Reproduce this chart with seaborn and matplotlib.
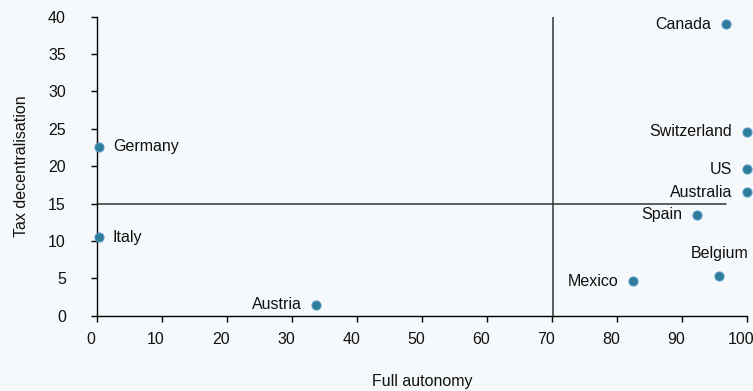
import matplotlib
matplotlib.use('Agg')
import matplotlib.pyplot as plt
import matplotlib.transforms as mtransforms
import seaborn as sns
import pandas as pd

# values
countries = ['Canada', 'Switzerland', 'US', 'Australia', 'Spain',
             'Belgium', 'Mexico', 'Austria', 'Italy', 'Germany']
autonomy = [96.8, 100, 100, 100, 92.3, 95.7, 82.5, 33.7, 0.3, 0.3]
tax_dec = [39.0, 24.6, 19.6, 16.5, 13.5, 5.3, 4.6, 1.45, 10.5, 22.6]

df = pd.DataFrame({'country': countries, 'autonomy': autonomy, 'tax': tax_dec})

sns.set_style('ticks')
plt.rcParams['font.family'] = ['Liberation Sans', 'DejaVu Sans']
bg = '#f6f9fb'
fs = 11.5

fig = plt.figure(figsize=(7.53, 3.91), dpi=100, facecolor=bg)
ax = fig.add_axes([0.129, 0.193, 0.863, 0.764])
ax.set_facecolor(bg)

# reference lines
ax.axvline(70.2, color='#333333', lw=1.1, zorder=1)
ax.plot([0, 96.8], [15, 15], color='#333333', lw=1.1, zorder=1)

sns.scatterplot(data=df, x='autonomy', y='tax', ax=ax, s=42,
                color='#2f7d99', edgecolor='#4f95c4', linewidth=0.8,
                zorder=3, clip_on=False)

# label placement: (dx, dy) in points, horizontal alignment
offsets = {
    'Canada': (-10.5, 0, 'right'),
    'Switzerland': (-10.5, 0, 'right'),
    'US': (-10.5, 0, 'right'),
    'Australia': (-10.5, 0, 'right'),
    'Spain': (-10.5, 0, 'right'),
    'Belgium': (21, 16, 'right'),
    'Mexico': (-10.5, 0, 'right'),
    'Austria': (-10.5, 0, 'right'),
    'Italy': (10, 0, 'left'),
    'Germany': (10, 0, 'left'),
}
for c, x, y in zip(countries, autonomy, tax_dec):
    dx, dy, ha = offsets[c]
    ax.annotate(c, (x, y), xytext=(dx, dy), textcoords='offset points',
                ha=ha, va='center', fontsize=fs, color='#111111')

ax.set_xlim(0, 100)
ax.set_ylim(0, 40)
ax.set_xticks(range(0, 101, 10))
ax.set_yticks(range(0, 41, 5))
ax.tick_params(labelsize=fs, length=4.5, width=1, color='black', labelcolor='#111111')
ax.tick_params(axis='x', pad=7)
ax.tick_params(axis='y', pad=18)
# x tick labels sit a little left of their ticks in the reference
shift = mtransforms.ScaledTranslation(-0.06, 0, fig.dpi_scale_trans)
for lab in ax.get_xticklabels():
    lab.set_transform(lab.get_transform() + shift)

for side in ['top', 'right']:
    ax.spines[side].set_visible(False)
for side in ['left', 'bottom']:
    ax.spines[side].set_color('black')
    ax.spines[side].set_linewidth(1)

ax.set_xlabel('Full autonomy', fontsize=fs, color='#111111', labelpad=20)
ax.set_ylabel('Tax decentralisation', fontsize=fs, color='#111111', labelpad=14)

fig.savefig('out.png', dpi=100, facecolor=bg)
